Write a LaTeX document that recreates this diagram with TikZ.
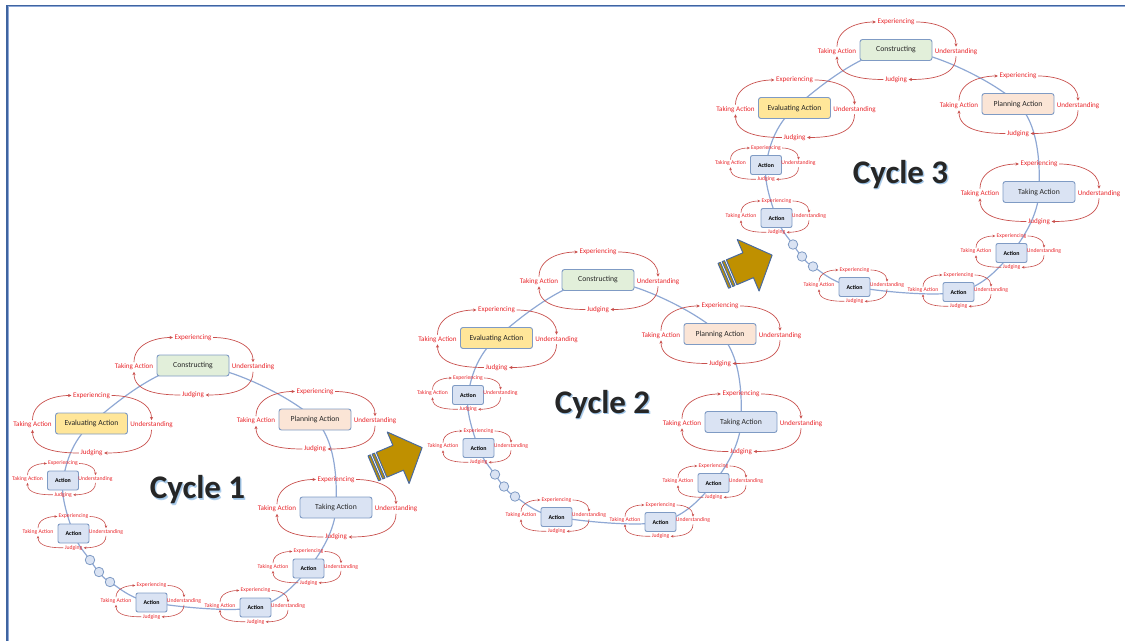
\documentclass[tikz,border=0pt]{standalone}
\usepackage{fontspec}
\setmainfont{Carlito}
\usetikzlibrary{arrows.meta}

\definecolor{labelred}{HTML}{E8262B}
\definecolor{arcred}{HTML}{C8504D}
\definecolor{boxedge}{HTML}{7F9BC4}
\definecolor{loopblue}{HTML}{8FA8D4}
\definecolor{fillgreen}{HTML}{E2EFDA}
\definecolor{fillyellow}{HTML}{FFE699}
\definecolor{fillpeach}{HTML}{FBE5D6}
\definecolor{fillblue}{HTML}{DAE3F3}
\definecolor{gold}{HTML}{BF9000}
\definecolor{arrowedge}{HTML}{4A6A9E}
\definecolor{frameblue}{HTML}{3F64A0}
\definecolor{framelight}{HTML}{8EA9D8}
\definecolor{titleglow}{HTML}{9DC3E6}
\definecolor{ink}{HTML}{262626}

\pgfdeclarelayer{bg}
\pgfsetlayers{bg,main}

\tikzset{
  bigbox/.style={draw=boxedge, line width=0.9pt, rounded corners=2.5pt,
    minimum width=72pt, minimum height=21pt, inner sep=0pt,
    font=\fontsize{7.7}{8}\selectfont, text=ink},
  smallbox/.style={draw=boxedge, line width=0.9pt, rounded corners=2pt,
    fill=fillblue, minimum width=31pt, minimum height=19pt, inner sep=0pt,
    font=\fontsize{5.9}{6}\selectfont\bfseries, text=black},
  biglab/.style={text=labelred, inner sep=1.5pt, font=\fontsize{7.1}{7}\selectfont},
  smalllab/.style={text=labelred, inner sep=1.2pt, font=\fontsize{5.7}{6}\selectfont},
  bigarc/.style={draw=arcred, line width=0.7pt, -{Stealth[length=3.4pt,width=3.2pt]}},
  smallarc/.style={draw=arcred, line width=0.6pt, -{Stealth[length=2.8pt,width=2.6pt]}},
  loopline/.style={draw=loopblue, line width=1.2pt},
  bead/.style={circle, draw=boxedge, line width=0.8pt, fill=fillblue,
    minimum size=9.5pt, inner sep=0pt},
  cycletitle/.style={font=\fontsize{33}{34}\selectfont\bfseries, text=ink, inner sep=0pt},
  cycleglow/.style={font=\fontsize{33}{34}\selectfont\bfseries, text=titleglow, inner sep=0pt},
  goldbody/.style={fill=gold, draw=arrowedge, line width=1pt, line join=round},
}

% a large stage box with its four-step ring of labels
\newcommand\bigstage[5]{%
  \begin{scope}[shift={(#2,#3)}]
    \node[bigbox, fill=#4] (#1) at (0,0) {#5};
    \node[biglab] (#1x) at (0,28) {Experiencing};
    \node[biglab] (#1t) at (-59,-1.5) {Taking Action};
    \node[biglab] (#1u) at (60,-1.5) {Understanding};
    \node[biglab] (#1j) at (0,-29.5) {Judging};
  \end{scope}
  \draw[bigarc] (#1t.north) to[out=90,in=180] (#1x.west);
  \draw[bigarc] (#1x.east) to[out=0,in=90] (#1u.north);
  \draw[bigarc] (#1u.south) to[out=-90,in=0] (#1j.east);
  \draw[bigarc] (#1j.west) to[out=180,in=-90] (#1t.south);
}

% a small action box with its ring
\newcommand\smallstage[3]{%
  \begin{scope}[shift={(#2,#3)}]
    \node[smallbox] (#1) at (0,0) {Action};
    \node[smalllab] (#1x) at (0,17) {Experiencing};
    \node[smalllab] (#1t) at (-35.5,1.5) {Taking Action};
    \node[smalllab] (#1u) at (32.5,1.5) {Understanding};
    \node[smalllab] (#1j) at (0,-14.3) {Judging};
  \end{scope}
  \draw[smallarc] (#1t.north) to[out=90,in=180] (#1x.west);
  \draw[smallarc] (#1x.east) to[out=0,in=90] (#1u.north);
  \draw[smallarc] (#1u.south) to[out=-90,in=0] (#1j.east);
  \draw[smallarc] (#1j.west) to[out=180,in=-90] (#1t.south);
}

% one full cycle, placed by the position of its Constructing box
\newcommand\drawcycle[3]{%
  \begin{scope}[shift={(#2)}]
    \bigstage{#1C}{0}{0}{fillgreen}{Constructing}
    \bigstage{#1E}{-101.5}{-58}{fillyellow}{Evaluating Action}
    \bigstage{#1P}{122}{-54}{fillpeach}{Planning Action}
    \bigstage{#1T}{143}{-142}{fillblue}{Taking Action}
    \smallstage{#1A}{-130}{-115}
    \smallstage{#1B}{-119.5}{-168}
    \smallstage{#1D}{-41.5}{-237}
    \smallstage{#1F}{62.5}{-242}
    \smallstage{#1G}{115.5}{-203}
    \node[bead] (#1o1) at (-103,-194.5) {};
    \node[bead] (#1o2) at (-94,-206.5) {};
    \node[bead] (#1o3) at (-83,-216.5) {};
    \begin{pgfonlayer}{bg}
      \draw[loopline] plot[smooth cycle, tension=0.55] coordinates
        {(#1C) (#1E) (#1A) (#1B) (#1o1) (#1o2) (#1o3) (#1D) (#1F) (#1G) (#1T) (#1P)};
    \end{pgfonlayer}
    \node[cycleglow, opacity=0.8] (#1glowa) at (6,-126) {#3};
    \node[cycleglow] (#1glowb) at (5.2,-125.2) {#3};
    \node[cycletitle] (#1title) at (4.5,-124.5) {#3};
  \end{scope}
}

% striped block arrow between cycles
\newcommand\goldarrow[2]{%
  \begin{scope}[shift={(#1,#2)}, rotate=23]
    \filldraw[goldbody] (0,-13.5) rectangle (2.5,13.5);
    \filldraw[goldbody] (4.5,-13.5) rectangle (7,13.5);
    \filldraw[goldbody] (9,-13.5) -- (27,-13.5) -- (27,-28) -- (53,0)
      -- (27,28) -- (27,13.5) -- (9,13.5) -- cycle;
  \end{scope}
}

\begin{document}
\begin{tikzpicture}[x=1pt, y=1pt]
  \useasboundingbox (0,0) rectangle (1125,641);

  % frame along the top and left edges
  \draw[frameblue, line width=1.6pt] (6.8,0) -- (6.8,635.6) -- (1125,635.6);
  \draw[framelight, line width=0.8pt] (8.3,0) -- (8.3,634.1) -- (1125,634.1);

  \drawcycle{a}{193,275.5}{Cycle 1}
  \drawcycle{b}{598,361}{Cycle 2}
  \drawcycle{c}{896,591}{Cycle 3}

  \goldarrow{373.3}{172.7}
  \goldarrow{723.3}{365.2}
\end{tikzpicture}
\end{document}
